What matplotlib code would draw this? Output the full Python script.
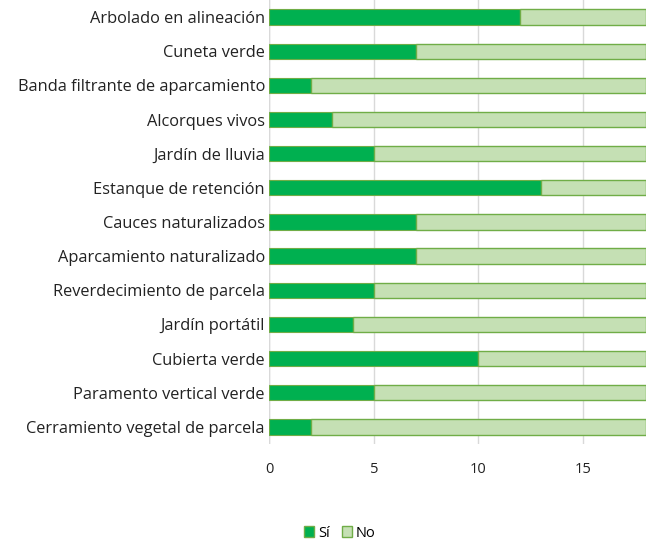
import matplotlib.pyplot as plt
from matplotlib.patches import Patch

# Datos (de arriba a abajo)
categorias = [
    "Arbolado en alineación",
    "Cuneta verde",
    "Banda filtrante de aparcamiento",
    "Alcorques vivos",
    "Jardín de lluvia",
    "Estanque de retención",
    "Cauces naturalizados",
    "Aparcamiento naturalizado",
    "Reverdecimiento de parcela",
    "Jardín portátil",
    "Cubierta verde",
    "Paramento vertical verde",
    "Cerramiento vegetal de parcela",
]
si = [12, 7, 2, 3, 5, 13, 7, 7, 5, 4, 10, 5, 2]
no = [6, 11, 16, 15, 13, 5, 11, 11, 13, 14, 8, 13, 16]

plt.rcParams['font.family'] = ['Open Sans', 'DejaVu Sans']

fig = plt.figure(figsize=(6.47, 5.44), dpi=100)
ax = fig.add_axes([0.416, 0.184, 0.582, 0.816])

pos = list(range(len(categorias)))
ax.barh(pos, si, height=0.45, color='#00B050', edgecolor='#70AD47',
        linewidth=0.8, label='Sí', zorder=3)
ax.barh(pos, no, left=si, height=0.45, color='#C5E0B4', edgecolor='#70AD47',
        linewidth=1.0, label='No', zorder=3)

ax.set_yticks(pos)
ax.set_yticklabels(categorias, fontsize=11.8, color='#222222')
ax.set_ylim(len(categorias) - 0.5, -0.5)
ax.set_xlim(0, 18)
ax.set_xticks([0, 5, 10, 15])
ax.tick_params(axis='x', labelsize=10.5, colors='#222222', length=0, pad=13)
ax.tick_params(axis='y', length=0, pad=3)

ax.grid(axis='x', color='#D9D9D9', linewidth=1, zorder=0)
for s in ax.spines.values():
    s.set_visible(False)
ax.axvline(0, color='#D9D9D9', linewidth=1, zorder=1)

handles = [Patch(facecolor='#00B050', edgecolor='#70AD47', label='Sí'),
           Patch(facecolor='#C5E0B4', edgecolor='#70AD47', label='No')]
fig.legend(handles=handles, loc='center', bbox_to_anchor=(0.525, 0.02),
           ncol=2, frameon=False, fontsize=10.5, handlelength=0.7,
           handleheight=0.7, handletextpad=0.3, columnspacing=0.8)

fig.savefig('out.png', dpi=100)
